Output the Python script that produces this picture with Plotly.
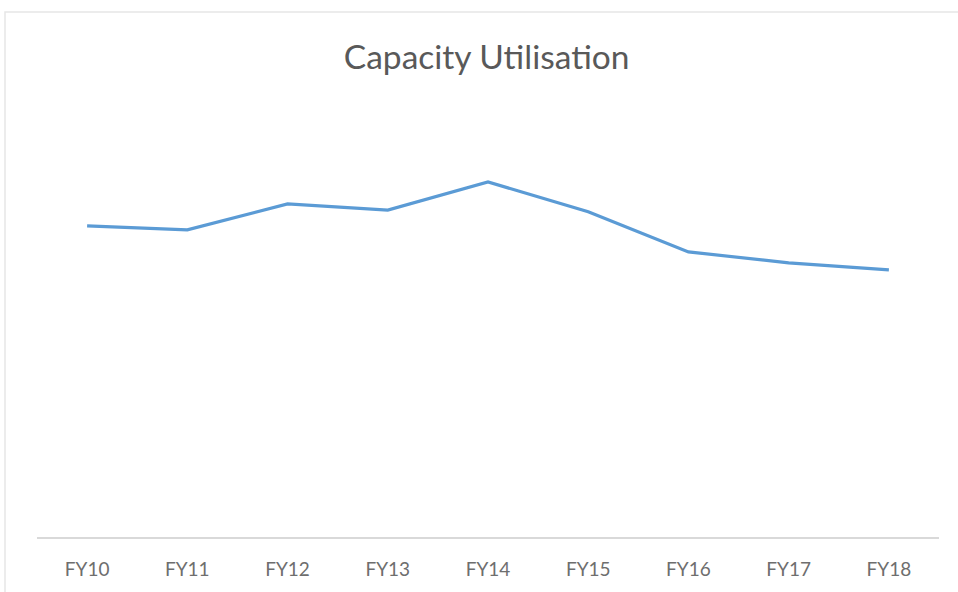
import plotly.graph_objects as go

categories = ["FY10", "FY11", "FY12", "FY13", "FY14", "FY15", "FY16", "FY17", "FY18"]
utilisation = [70.7, 69.8, 75.7, 74.3, 80.7, 73.9, 64.8, 62.3, 60.7]

fig = go.Figure()
fig.add_trace(go.Scatter(
    x=categories, y=utilisation, mode="lines",
    line=dict(color="#5B9BD5", width=3.2),
    hoverinfo="x+y",
))

fig.update_layout(
    width=958, height=592,
    margin=dict(l=37, r=19, t=97, b=55),
    paper_bgcolor="white", plot_bgcolor="white",
    showlegend=False,
    title=dict(text="Capacity Utilisation", x=0.508, xanchor="center",
               y=1 - 57/592, yanchor="middle",
               font=dict(family="Lato, Open Sans, sans-serif", size=33.5, color="#595959")),
    xaxis=dict(type="category", showgrid=False, showline=True, linecolor="#D9D9D9",
               linewidth=1.5, ticks="", range=[-0.5, 8.5], ticklabelstandoff=14,
               tickfont=dict(family="Lato, Open Sans, sans-serif", size=19, color="#6E6E6E")),
    yaxis=dict(range=[0, 100], showgrid=False, showticklabels=False, zeroline=False,
               showline=False),
    shapes=[dict(type="rect", xref="paper", yref="paper",
                 x0=-32/902, x1=1 + 30/902, y0=(55 - 589)/440, y1=1 + (97 - 12)/440,
                 line=dict(color="#E6E6E6", width=1.5), fillcolor="rgba(0,0,0,0)")],
)

fig.write_html("out.html")
